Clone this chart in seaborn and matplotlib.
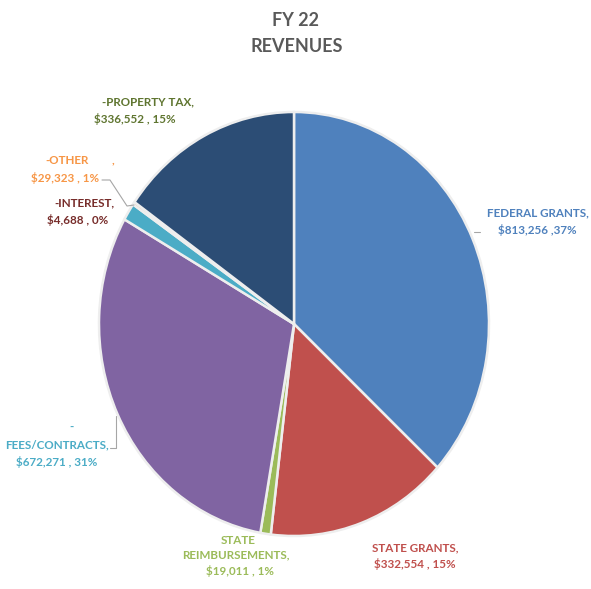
import matplotlib
matplotlib.use("Agg")
import matplotlib.pyplot as plt
import seaborn as sns

# data
categorias = ['FEDERAL GRANTS', 'STATE GRANTS', 'STATE REIMBURSEMENTS', 'FEES/CONTRACTS',
              'OTHER', 'INTEREST', 'PROPERTY TAX']
montos = [813256, 332554, 19011, 672271, 29323, 4688, 336552]
porcentajes = ['37%', '15%', '1%', '31%', '1%', '0%', '15%']

colores_sector = ['#4F81BD', '#C0504D', '#9BBB59', '#8064A2', '#4BACC6', '#F79646', '#2C4D75']

sns.set_theme(style='white')
plt.rcParams['font.family'] = ['Lato', 'DejaVu Sans']

W, H = 591, 589
fig = plt.figure(figsize=(W / 100, H / 100), dpi=100)
# the reference pie is slightly stretched vertically
cx, cy, rx, ry = 294, 324, 195, 212
ax = fig.add_axes([(cx - rx) / W, (H - cy - ry) / H, 2 * rx / W, 2 * ry / H])

ax.pie(montos, colors=colores_sector, startangle=90, counterclock=False,
       wedgeprops=dict(edgecolor='#EEEEEE', linewidth=1.8))
ax.set_aspect('auto')
ax.set_xlim(-1, 1)
ax.set_ylim(-1, 1)
ax.axis('off')


def px(x, y):
    return x / W, 1 - y / H


# title
fig.text(*px(295, 20), 'FY 22', ha='center', va='center', fontsize=13,
         fontweight='bold', color='#595959')
fig.text(*px(297, 47), 'REVENUES', ha='center', va='center', fontsize=13,
         fontweight='bold', color='#595959')

# label lines (text, pixel center, color)
etiquetas = [
    ('FEDERAL GRANTS,', (538, 213), '#4F81BD'),
    ('$813,256 ,37%', (537, 230), '#4F81BD'),
    ('STATE GRANTS,', (415, 548), '#C0504D'),
    ('$332,554 , 15%', (415, 564), '#C0504D'),
    ('STATE', (238, 540), '#9BBB59'),
    ('REIMBURSEMENTS,', (236, 555), '#9BBB59'),
    ('$19,011 , 1%', (240, 571), '#9BBB59'),
    ('FEES/CONTRACTS,', (57, 445), '#4BACC6'),
    ('$672,271 , 31%', (57, 462), '#4BACC6'),
    ('-', (72, 427), '#4BACC6'),
    ('-OTHER', (67, 160), '#F79646'),
    (',', (113, 160), '#F79646'),
    ('$29,323 , 1%', (65, 178), '#F79646'),
    ('-INTEREST,', (84, 203), '#772C2A'),
    ('$4,688 , 0%', (78, 220), '#772C2A'),
    ('-PROPERTY TAX,', (148, 102), '#5F7530'),
    ('$336,552 , 15%', (135, 119), '#5F7530'),
]
for texto, (x, y), color in etiquetas:
    fig.text(*px(x, y), texto, ha='center', va='center', fontsize=8.4,
             fontweight='bold', color=color)

# leader lines
lineas = [
    [(102, 180), (110, 180), (127, 206), (134, 205)],
    [(110, 448), (116, 448), (116, 416)],
    [(474, 232), (480, 232)],
]
for pts in lineas:
    xs = [p[0] / W for p in pts]
    ys = [1 - p[1] / H for p in pts]
    fig.add_artist(plt.Line2D(xs, ys, color='#A6A6A6', linewidth=0.8))

fig.savefig('out.png', dpi=100, facecolor='white')
